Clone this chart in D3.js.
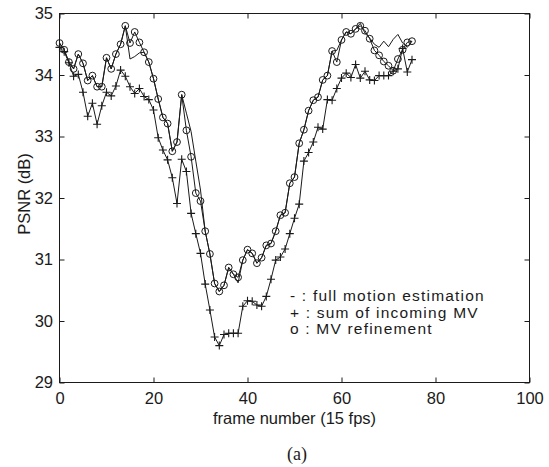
<!DOCTYPE html>
<html>
<head>
<meta charset="utf-8">
<script src="https://cdn.jsdelivr.net/npm/d3@7"></script>
<style>
  body { margin: 0; background: #fff; }
  svg { display: block; }
</style>
</head>
<body>
<svg id="chart"></svg>
<script>
// PSNR per frame (index = frame number 0..75)
const fullME = [
  34.52, 34.41, 34.21, 34.10, 34.34, 34.19, 33.91, 33.99, 33.81, 33.81,
  34.28, 34.10, 34.34, 34.50, 34.80, 34.26, 34.30, 34.36, 34.37, 34.21,
  33.94, 33.61, 33.31, 33.21, 32.76, 32.91, 33.68, 33.38, 33.08, 32.60,
  32.13, 31.46, 31.09, 30.61, 30.48, 30.58, 30.87, 30.76, 30.62, 30.99,
  31.16, 31.10, 30.94, 31.03, 31.23, 31.26, 31.46, 31.72, 31.76, 32.24,
  32.34, 32.89, 33.11, 33.42, 33.59, 33.64, 33.92, 33.99, 34.39, 34.40,
  34.57, 34.70, 34.67, 34.75, 34.84, 34.68, 34.60, 34.50, 34.45, 34.55,
  34.46, 34.58, 34.66, 34.52, 34.45, 34.55
];
const sumMV = [
  34.45, 34.38, 34.20, 33.98, 34.01, 33.72, 33.33, 33.54, 33.20, 33.50,
  33.72, 33.66, 33.82, 34.08, 33.98, 33.81, 33.70, 33.78, 33.65, 33.60,
  33.43, 32.98, 32.78, 32.62, 32.33, 31.91, 32.63, 32.43, 31.75, 31.42,
  31.10, 30.60, 30.18, 29.74, 29.60, 29.78, 29.80, 29.80, 29.80, 30.24,
  30.33, 30.32, 30.26, 30.24, 30.40, 30.68, 30.99, 31.04, 31.17, 31.42,
  31.67, 31.90, 32.60, 32.74, 32.91, 33.15, 33.12, 33.60, 33.59, 33.78,
  33.95, 34.03, 33.96, 34.17, 33.95, 34.06, 33.92, 33.91, 33.99, 33.99,
  33.99, 34.06, 34.10, 34.43, 34.05, 34.25
];
const mvRefine = [
  34.52, 34.41, 34.21, 34.10, 34.34, 34.19, 33.91, 33.99, 33.81, 33.81,
  34.28, 34.10, 34.34, 34.50, 34.80, 34.52, 34.70, 34.53, 34.37, 34.21,
  33.94, 33.61, 33.31, 33.21, 32.76, 32.91, 33.68, 33.10, 32.67, 32.08,
  31.95, 31.46, 31.09, 30.61, 30.48, 30.58, 30.87, 30.76, 30.71, 30.99,
  31.16, 31.10, 30.94, 31.03, 31.23, 31.26, 31.46, 31.72, 31.76, 32.24,
  32.34, 32.89, 33.11, 33.42, 33.59, 33.64, 33.92, 33.99, 34.39, 34.21,
  34.57, 34.70, 34.67, 34.75, 34.80, 34.72, 34.59, 34.40, 34.32, 34.22,
  34.15, 34.07, 34.26, 34.41, 34.53, 34.55
];

const xTicks = [0, 20, 40, 60, 80, 100];
const yTicks = [29, 30, 31, 32, 33, 34, 35];
const legendLines = [
  "- : full motion estimation",
  "+ : sum of incoming MV",
  "o : MV refinement"
];

const W = 549, H = 467;
const FONT = "'Liberation Sans', Arial, Helvetica, sans-serif";
const INK = "#1a1a1a";

const svg = d3.select("#chart").attr("width", W).attr("height", H);
svg.append("rect").attr("width", W).attr("height", H).attr("fill", "#fff");

const x = d3.scaleLinear().domain([0, 100]).range([59.5, 529.5]);
const y = d3.scaleLinear().domain([29, 35]).range([382.5, 13.5]);

// axes: inward ticks on all four sides (matlab box)
function styleAxis(g) {
  g.select(".domain").remove();
  g.selectAll("line").attr("stroke", INK);
  g.selectAll("text")
    .attr("fill", INK)
    .attr("font-family", FONT)
    .attr("font-size", 16.5);
}

svg.append("g")
  .attr("transform", `translate(0,${y.range()[0]})`)
  .call(d3.axisBottom(x).tickValues(xTicks).tickFormat(d3.format("d"))
    .tickSizeInner(-5).tickSizeOuter(0).tickPadding(10))
  .call(styleAxis);
svg.append("g")
  .attr("transform", `translate(0,${y.range()[1]})`)
  .call(d3.axisTop(x).tickValues(xTicks).tickSizeInner(-5).tickSizeOuter(0).tickFormat(""))
  .call(styleAxis);
svg.append("g")
  .attr("transform", `translate(${x.range()[0]},0)`)
  .call(d3.axisLeft(y).tickValues(yTicks).tickFormat(d3.format("d"))
    .tickSizeInner(-5).tickSizeOuter(0).tickPadding(6.5))
  .call(styleAxis);
svg.append("g")
  .attr("transform", `translate(${x.range()[1]},0)`)
  .call(d3.axisRight(y).tickValues(yTicks).tickSizeInner(-5).tickSizeOuter(0).tickFormat(""))
  .call(styleAxis);

// frame box
svg.append("rect")
  .attr("x", x.range()[0]).attr("y", y.range()[1])
  .attr("width", x.range()[1] - x.range()[0])
  .attr("height", y.range()[0] - y.range()[1])
  .attr("fill", "none").attr("stroke", INK).attr("stroke-width", 1);

// series lines
const line = d3.line().x((d, i) => x(i)).y(d => y(d));
[fullME, sumMV, mvRefine].forEach(s => {
  svg.append("path")
    .datum(s)
    .attr("d", line)
    .attr("fill", "none")
    .attr("stroke", INK)
    .attr("stroke-width", 1);
});

// markers
svg.append("g").selectAll("path")
  .data(sumMV)
  .join("path")
  .attr("transform", (d, i) => `translate(${x(i)},${y(d)})`)
  .attr("d", "M-4,0H4M0,-4V4")
  .attr("stroke", INK)
  .attr("stroke-width", 1.1)
  .attr("fill", "none");

svg.append("g").selectAll("circle")
  .data(mvRefine)
  .join("circle")
  .attr("cx", (d, i) => x(i))
  .attr("cy", d => y(d))
  .attr("r", 3.4)
  .attr("fill", "none")
  .attr("stroke", INK)
  .attr("stroke-width", 1);

// legend (plain text, as in the figure)
svg.append("g").selectAll("text")
  .data(legendLines)
  .join("text")
  .attr("x", 290)
  .attr("y", (d, i) => 301 + i * 16.5)
  .attr("font-family", FONT)
  .attr("font-size", 15.5)
  .attr("letter-spacing", 1.2)
  .attr("fill", INK)
  .text(d => d);

// axis titles
svg.append("text")
  .attr("x", (x.range()[0] + x.range()[1]) / 2)
  .attr("y", 424)
  .attr("text-anchor", "middle")
  .attr("font-family", FONT)
  .attr("font-size", 16.5)
  .attr("fill", INK)
  .text("frame number (15 fps)");

svg.append("text")
  .attr("transform", "translate(30,194) rotate(-90)")
  .attr("text-anchor", "middle")
  .attr("font-family", FONT)
  .attr("font-size", 16.5)
  .attr("fill", INK)
  .text("PSNR (dB)");

svg.append("text")
  .attr("x", 297)
  .attr("y", 460)
  .attr("text-anchor", "middle")
  .attr("font-family", "'Liberation Serif', 'Times New Roman', serif")
  .attr("font-size", 18)
  .attr("fill", INK)
  .text("(a)");
</script>
</body>
</html>
